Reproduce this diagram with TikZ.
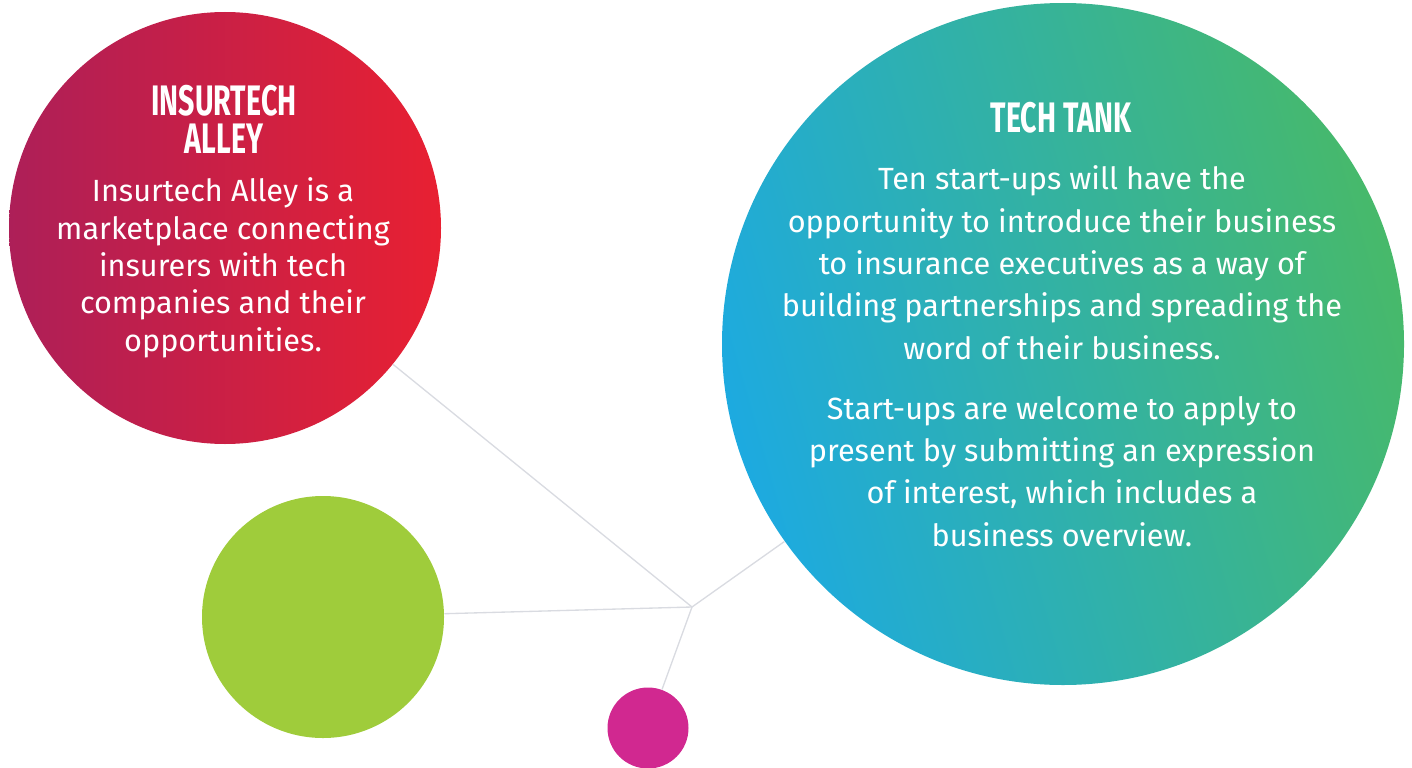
\documentclass[tikz,border=0pt]{standalone}
\usepackage{fontspec}
\setmainfont{Fira Sans}
\newfontfamily\headfont[FakeStretch=0.67]{Fira Sans}
\newfontfamily\alleyfont{Fira Sans}
\newfontfamily\tankfont{Fira Sans}
\usetikzlibrary{positioning, calc}
\definecolor{alleyL}{HTML}{AD1F58}
\definecolor{alleyR}{HTML}{E82032}
\definecolor{tankA}{HTML}{1DAAE0}
\definecolor{tankM}{HTML}{2DB1AE}
\definecolor{tankB}{HTML}{47B96A}
\definecolor{lime}{HTML}{9FCC3B}
\definecolor{berry}{HTML}{D12890}
\definecolor{linkgray}{HTML}{D9DBE1}
\tikzset{
  every picture/.style={line width=0.8pt},
  bubble/.style={circle, draw=none, inner sep=0pt},
  link/.style={draw=linkgray, line width=1pt},
  head/.style={text=white, align=center, inner sep=0pt, font=\headfont\bfseries\fontsize{32}{28.5}\selectfont},
  alleytext/.style={text=white, align=center, inner sep=0pt, font=\alleyfont\fontsize{23}{28}\selectfont},
  tanktext/.style={text=white, align=center, inner sep=0pt, font=\tankfont\fontsize{23}{31.7}\selectfont}
}
\begin{document}
\begin{tikzpicture}[x=0.75pt, y=-0.75pt]
    \useasboundingbox (0,0) rectangle (1412,767);

    % bubbles
    \node[bubble, minimum size=324pt, left color=alleyL, right color=alleyR] (alley) at (225,228) {};
    \node[bubble, minimum size=511.5pt, left color=tankA, middle color=tankM, right color=tankB, shading angle=106] (tank) at (1063,344) {};
    \node[bubble, minimum size=181.5pt, fill=lime] (lime) at (323,617) {};
    \node[bubble, minimum size=60.75pt, fill=berry] (dot) at (648,728) {};

    % spokes
    \coordinate (hub) at (692,607);
    \draw[link] (hub) -- (alley);
    \draw[link] (hub) -- (tank);
    \draw[link] (hub) -- (lime);
    \draw[link] (hub) -- (dot);

    % texts (base = last line)
    \node[head, anchor=base] (alleyhead) at (224,115) {INSURTECH};
    \node[head, anchor=base] (alleyhead2) at (224,153) {ALLEY};
    \node[alleytext, anchor=base] (alleybody) at (223,351) {Insurtech Alley is a\\marketplace connecting\\insurers with tech\\companies and their\\opportunities.};

    \node[head, anchor=base] (tankhead) at (1061,132) {TECH TANK};
    \node[tanktext, anchor=base] (tankbody) at (1062,359) {Ten start-ups will have the\\opportunity to introduce their business\\to insurance executives as a way of\\building partnerships and spreading the\\word of their business.};
    \node[tanktext, anchor=base] (tankapply) at (1062,546) {Start-ups are welcome to apply to\\present by submitting an expression\\of interest, which includes a\\business overview.};
\end{tikzpicture}
\end{document}
